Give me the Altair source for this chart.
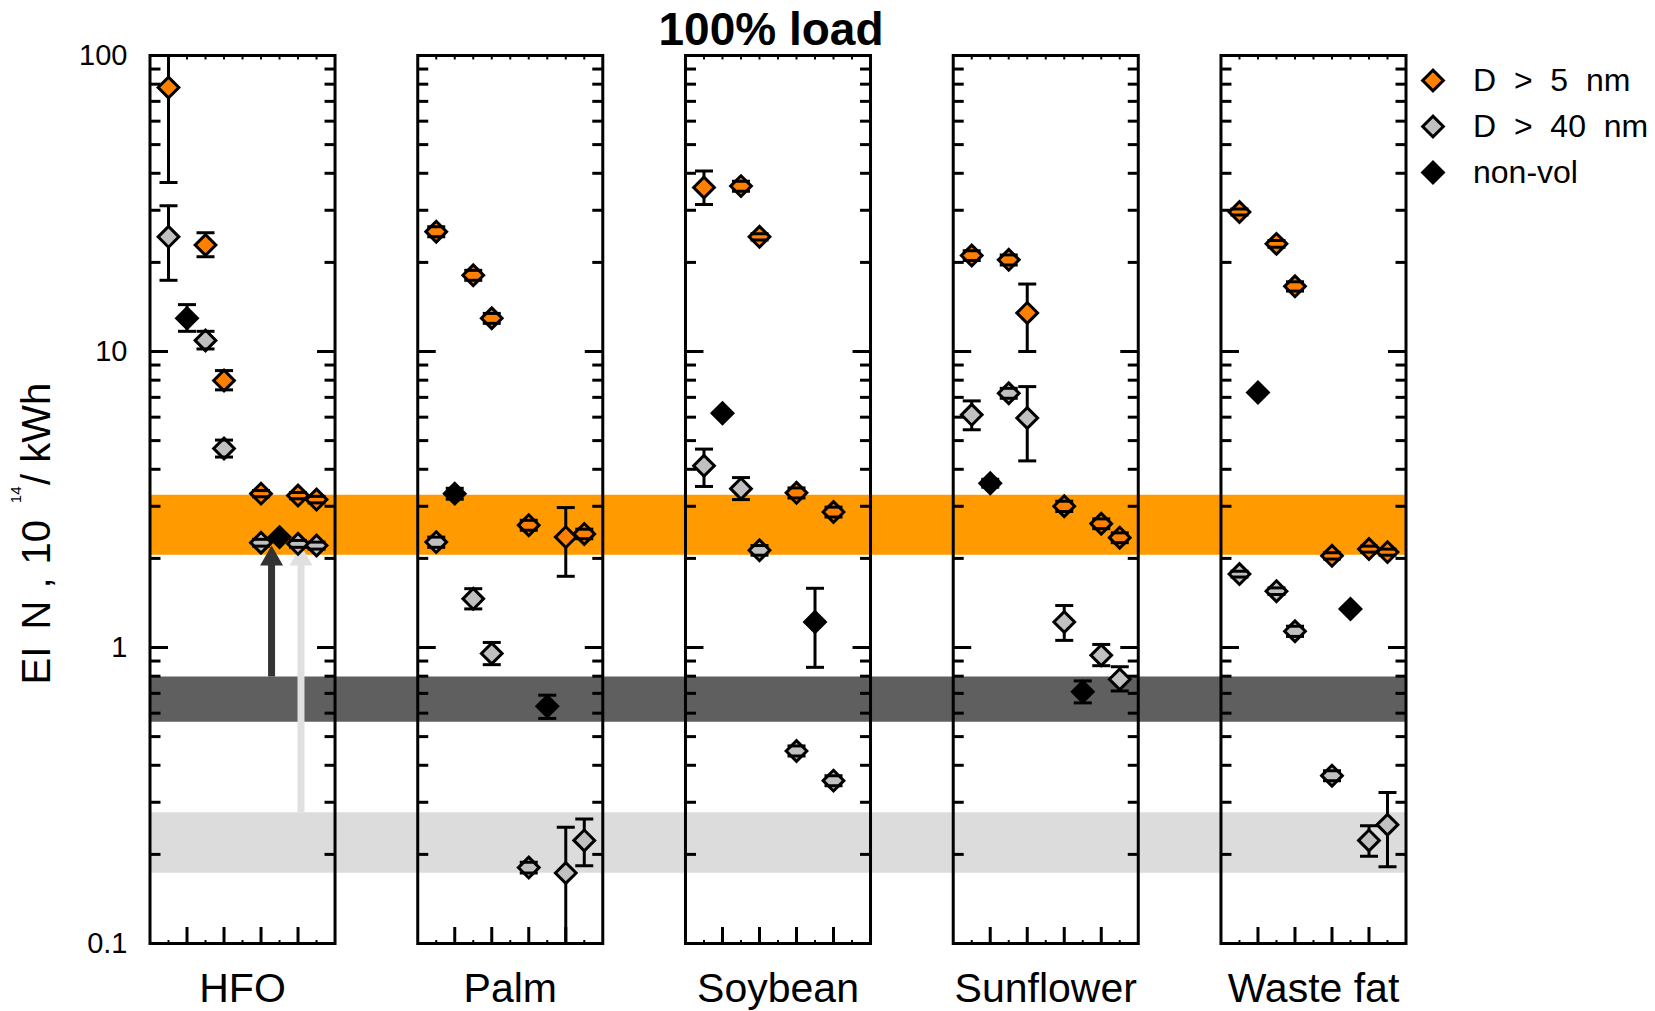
import altair as alt
import pandas as pd

# ---------------- data ----------------
fuels = ["HFO", "Palm", "Soybean", "Sunflower", "Waste fat"]
series_names = ["D > 5 nm", "D > 40 nm", "non-vol"]
series_labels = ["D \u00a0> \u00a05 \u00a0nm", "D \u00a0> \u00a040 \u00a0nm", "non-vol"]
series_colors = ["#FF8000", "#C0C0C0", "#000000"]

# D > 5 nm
d5_fuel = ["HFO"] * 6 + ["Palm"] * 6 + ["Soybean"] * 5 + ["Sunflower"] * 6 + ["Waste fat"] * 6
d5_slot = [1, 3, 4, 6, 8, 9, 1, 3, 4, 6, 8, 9, 1, 3, 4, 6, 8, 1, 3, 4, 6, 8, 9, 1, 3, 4, 6, 8, 9]
d5_val = [78.0, 22.9, 7.98, 3.31, 3.26, 3.16,
          25.4, 18.1, 12.95, 2.59, 2.36, 2.42,
          35.8, 36.2, 24.4, 3.33, 2.87,
          21.1, 20.4, 13.5, 3.00, 2.62, 2.35,
          29.6, 23.1, 16.6, 2.04, 2.15, 2.10]
d5_lo = [37.2, 20.9, 7.42, 3.23, 3.18, 3.08,
         24.4, 17.4, 12.45, 2.49, 1.74, 2.33,
         31.4, 34.8, 23.8, 3.20, 2.76,
         20.3, 19.6, 10.0, 2.88, 2.52, 2.26,
         28.9, 22.5, 16.0, 1.99, 2.10, 2.05]
d5_hi = [119.0, 25.2, 8.62, 3.39, 3.34, 3.24,
         26.4, 18.8, 13.45, 2.69, 2.97, 2.51,
         40.7, 37.6, 25.0, 3.46, 2.98,
         21.9, 21.2, 16.9, 3.12, 2.72, 2.44,
         30.3, 23.7, 17.2, 2.09, 2.20, 2.15]

# D > 40 nm
d40_fuel = ["HFO"] * 6 + ["Palm"] * 6 + ["Soybean"] * 5 + ["Sunflower"] * 6 + ["Waste fat"] * 6
d40_slot = [1, 3, 4, 6, 8, 9, 1, 3, 4, 6, 8, 9, 1, 3, 4, 6, 8, 1, 3, 4, 6, 8, 9, 1, 3, 4, 6, 8, 9]
d40_val = [24.4, 10.9, 4.70, 2.26, 2.24, 2.21,
           2.27, 1.46, 0.954, 0.1805, 0.173, 0.223,
           4.11, 3.44, 2.13, 0.447, 0.355,
           6.11, 7.23, 5.96, 1.22, 0.941, 0.781,
           1.77, 1.55, 1.135, 0.369, 0.223, 0.252]
d40_lo = [17.4, 10.2, 4.40, 2.20, 2.18, 2.15,
          2.18, 1.35, 0.875, 0.173, 0.099, 0.183,
          3.50, 3.16, 2.05, 0.430, 0.341,
          5.44, 6.95, 4.27, 1.057, 0.868, 0.713,
          1.73, 1.51, 1.09, 0.355, 0.197, 0.1815]
d40_hi = [31.1, 11.7, 5.02, 2.32, 2.30, 2.27,
          2.36, 1.58, 1.04, 0.188, 0.247, 0.2635,
          4.68, 3.75, 2.21, 0.465, 0.369,
          6.81, 7.51, 7.61, 1.386, 1.024, 0.861,
          1.81, 1.59, 1.18, 0.383, 0.250, 0.3236]

# non-volatile
nv_fuel = ["HFO", "HFO", "Palm", "Palm", "Soybean", "Soybean", "Sunflower", "Sunflower", "Waste fat", "Waste fat"]
nv_slot = [2, 7, 2, 7, 2, 7, 2, 7, 2, 7]
nv_val = [12.95, 2.36, 3.31, 0.633, 6.19, 1.22, 3.59, 0.709, 7.27, 1.35]
nv_lo = [11.7, None, 3.17, 0.576, None, 0.857, 3.48, 0.650, None, None]
nv_hi = [14.4, None, 3.45, 0.690, None, 1.585, 3.70, 0.771, None, None]

# reference bands (across all fuels)
band_name = ["D > 5 nm", "non-vol", "D > 40 nm"]
band_lo = [2.056, 0.561, 0.1734]
band_hi = [3.28, 0.798, 0.2778]
band_color = ["#FF9A00", "#5F5F5F", "#DCDCDC"]

# arrows in the HFO panel (from band to HFO level)
arrow_slot = [6.57, 8.16]
arrow_from = [0.798, 0.2778]
arrow_to = [2.21, 2.21]
arrow_color = ["#333333", "#E0E0E0"]

# axis ticks
y_major = [1, 10]
y_minor = [m * d for d in (0.1, 1, 10) for m in range(2, 10)]
x_major = [2, 4, 6, 8]
x_minor = [1, 3, 5, 7, 9]
y_labels = [0.1, 1, 10, 100]

# ---------------- layout helpers ----------------
PITCH = 14.47          # panel pitch in slot units (panel = 10 slots)
UNIT = 18.5            # px per slot unit
W = int(round((4 * PITCH + 10) * UNIT))
H = 888
FONT = "Liberation Sans"
fidx = {f: i for i, f in enumerate(fuels)}

rows = []
for name, fu, sl, v, lo, hi in [
    (series_labels[0], d5_fuel, d5_slot, d5_val, d5_lo, d5_hi),
    (series_labels[1], d40_fuel, d40_slot, d40_val, d40_lo, d40_hi),
    (series_labels[2], nv_fuel, nv_slot, nv_val, nv_lo, nv_hi),
]:
    for f, s, vv, l, h in zip(fu, sl, v, lo, hi):
        rows.append({"series": name, "fuel": f, "x": fidx[f] * PITCH + s,
                     "v": vv, "lo": l, "hi": h})
pts = pd.DataFrame(rows)
err = pts.dropna(subset=["lo", "hi"])

panels = pd.DataFrame({"fuel": fuels,
                       "x0": [i * PITCH for i in range(5)],
                       "x1": [i * PITCH + 10 for i in range(5)],
                       "xc": [i * PITCH + 5 for i in range(5)],
                       "y0": [0.1] * 5, "y1": [100] * 5})

def yticks(vals):
    return pd.DataFrame([{"x0": i * PITCH, "x1": i * PITCH + 10, "y": v}
                         for i in range(5) for v in vals])

def xticks(vals):
    return pd.DataFrame([{"x": i * PITCH + s, "ylo": 0.1, "yhi": 100}
                         for i in range(5) for s in vals])

bands = pd.DataFrame({"name": band_name, "lo": band_lo, "hi": band_hi,
                      "color": band_color, "x0": [0] * 3, "x1": [4 * PITCH + 10] * 3})
arrows = pd.DataFrame({"x": arrow_slot, "y0": arrow_from, "y1": arrow_to, "color": arrow_color})

xs = alt.Scale(domain=[0, 4 * PITCH + 10], nice=False, zero=False)
ys = alt.Scale(type="log", domain=[0.1, 100], nice=False)
YAX = alt.Axis(values=y_labels, format="~g", ticks=False, domain=False, grid=False,
               labelFontSize=29, labelFont=FONT, labelColor="black",
               labelPadding=23, title=None)
X = lambda f: alt.X(f, type="quantitative", scale=xs, axis=None)
Y = lambda f: alt.Y(f, type="quantitative", scale=ys, axis=YAX)

band_layer = alt.Chart(bands).mark_rect().encode(
    x=X("x0"), x2="x1", y=Y("lo"), y2="hi",
    fill=alt.Fill("color:N", scale=None))

arrow_shaft = alt.Chart(arrows).mark_rule(strokeWidth=7, y2Offset=12).encode(
    x=X("x"), y=Y("y0"), y2="y1", stroke=alt.Stroke("color:N", scale=None))
arrow_head = alt.Chart(arrows).mark_point(shape="triangle-up", filled=True, size=529,
                                          opacity=1, yOffset=10).encode(
    x=X("x"), y=Y("y1"), fill=alt.Fill("color:N", scale=None))

frames = alt.Chart(panels).mark_rect(fillOpacity=0, stroke="black", strokeWidth=3).encode(
    x=X("x0"), x2="x1", y=Y("y0"), y2="y1")

TW = 3
lmaj = alt.Chart(yticks(y_major)).mark_rule(color="black", strokeWidth=TW, x2Offset=18).encode(
    x=X("x0"), x2="x0", y=Y("y"))
lmin = alt.Chart(yticks(y_minor)).mark_rule(color="black", strokeWidth=TW, x2Offset=10.5).encode(
    x=X("x0"), x2="x0", y=Y("y"))
rmaj = alt.Chart(yticks(y_major)).mark_rule(color="black", strokeWidth=TW, x2Offset=-18).encode(
    x=X("x1"), x2="x1", y=Y("y"))
rmin = alt.Chart(yticks(y_minor)).mark_rule(color="black", strokeWidth=TW, x2Offset=-10.5).encode(
    x=X("x1"), x2="x1", y=Y("y"))
bmaj = alt.Chart(xticks(x_major)).mark_rule(color="black", strokeWidth=TW, y2Offset=-16.5).encode(
    x=X("x"), y=Y("ylo"), y2="ylo")
bmin = alt.Chart(xticks(x_minor)).mark_rule(color="black", strokeWidth=2, y2Offset=-3.5).encode(
    x=X("x"), y=Y("ylo"), y2="ylo")
tall = alt.Chart(xticks(x_major + x_minor)).mark_rule(color="black", strokeWidth=2, y2Offset=4).encode(
    x=X("x"), y=Y("yhi"), y2="yhi")

stems = alt.Chart(err).mark_rule(color="black", strokeWidth=3, clip=True).encode(
    x=X("x"), y=Y("lo"), y2="hi")

markers = alt.Chart(pts).mark_point(shape="diamond", filled=True, size=430, opacity=1,
                                    stroke="black", strokeWidth=3).encode(
    x=X("x"), y=Y("v"),
    fill=alt.Fill("series:N",
                  scale=alt.Scale(domain=series_labels, range=series_colors),
                  legend=alt.Legend(orient="none", legendX=1267, legendY=9, title=None,
                                    symbolType="diamond", symbolSize=430,
                                    symbolStrokeColor="black", symbolStrokeWidth=3,
                                    symbolOpacity=1, labelLimit=400,
                                    labelFontSize=32, labelFont=FONT, labelColor="black",
                                    labelOffset=24, rowPadding=12, padding=0)))

cap_lo = alt.Chart(err).mark_tick(orient="horizontal", color="black", size=18, thickness=3,
                                  opacity=1, clip=True).encode(x=X("x"), y=Y("lo"))
cap_hi = alt.Chart(err).mark_tick(orient="horizontal", color="black", size=18, thickness=3,
                                  opacity=1, clip=True).encode(x=X("x"), y=Y("hi"))

cat_labels = alt.Chart(panels).mark_text(fontSize=41, font=FONT, color="black",
                                         baseline="alphabetic", align="center").encode(
    x=X("xc"), y=alt.value(946), text="fuel:N")

title = alt.Chart(pd.DataFrame({"t": ["100% load"]})).mark_text(
    fontSize=46, font=FONT, fontWeight="bold", color="black",
    baseline="alphabetic", align="center").encode(
    x=alt.value(621), y=alt.value(-10.5), text="t:N")

def ytitle(txt, x, y, size):
    return alt.Chart(pd.DataFrame({"t": [txt]})).mark_text(
        fontSize=size, font=FONT, color="black", angle=270,
        baseline="alphabetic", align="left").encode(
        x=alt.value(x), y=alt.value(y), text="t:N")

yt = (ytitle("EI", -100, 629, 40) + ytitle("N", -100, 574, 40) +
      ytitle(",", -100, 533, 40) + ytitle("10", -100, 509, 40) +
      ytitle("14", -129.3, 447.7, 15) + ytitle("/ kWh", -100, 429.5, 40))

chart = alt.layer(
    band_layer, arrow_shaft, arrow_head, frames,
    lmaj, lmin, rmaj, rmin, bmaj, bmin, tall,
    stems, markers, cap_lo, cap_hi, cat_labels, title, yt,
).properties(
    width=W, height=H,
    padding={"left": 150, "top": 55.5, "right": 1655 - 150 - W, "bottom": 1011 - 55.5 - H},
    autosize=alt.AutoSizeParams(type="none"),
).configure(background="white").configure_view(stroke=None)

chart.save("out.html", embed_options={"renderer": "svg", "actions": False})
